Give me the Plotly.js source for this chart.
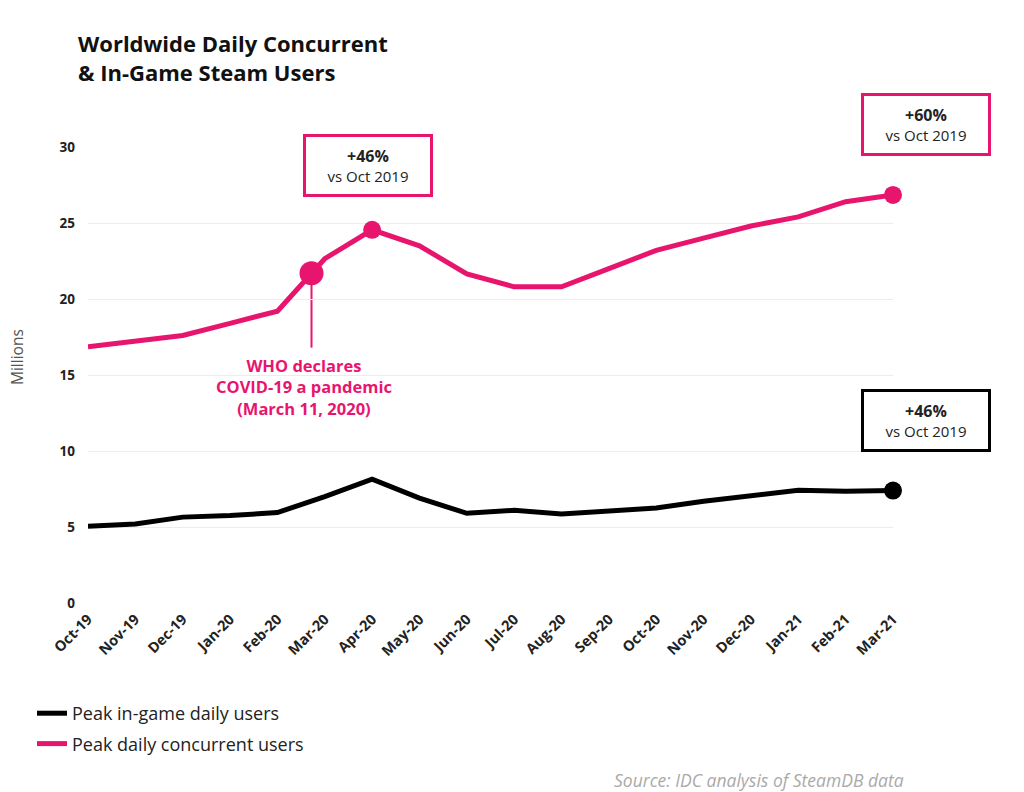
<!DOCTYPE html>
<html>
<head>
<meta charset="utf-8">
<script src="https://cdn.plot.ly/plotly-3.0.1.min.js"></script>
<style>html,body{margin:0;padding:0;background:#fff;}#chart{width:1024px;height:792px;}</style>
</head>
<body>
<div id="chart"></div>
<script>
// ---- data ----
const months = ["Oct-19","Nov-19","Dec-19","Jan-20","Feb-20","Mar-20","Apr-20","May-20","Jun-20","Jul-20","Aug-20","Sep-20","Oct-20","Nov-20","Dec-20","Jan-21","Feb-21","Mar-21"];
const concurrentUsers = [16.85,17.2,17.6,18.4,19.2,22.65,24.55,23.5,21.65,20.8,20.8,22.0,23.2,24.0,24.8,25.4,26.4,26.85];
const inGameUsers = [5.05,5.2,5.65,5.75,5.95,7.0,8.15,6.9,5.9,6.1,5.85,6.05,6.25,6.7,7.1,7.42,7.35,7.4];
const covidEventX = [4.72];   // March 11, 2020 between Feb-20 and Mar-20 ticks
const covidEventY = [21.7];
const yTicks = [0,5,10,15,20,25,30];

const PINK = "#E8156F";
const FONT = "'Open Sans', sans-serif";
const idx = months.map((m,i)=>i);
const last = months.length - 1;

const traces = [
  {x: idx, y: inGameUsers, type: "scatter", mode: "lines", name: "Peak in-game daily users",
   legendgroup: "a", line: {color: "#000", width: 5}, hoverinfo: "skip"},
  {x: idx, y: concurrentUsers, type: "scatter", mode: "lines", name: "Peak daily concurrent users",
   legendgroup: "b", line: {color: PINK, width: 5}, hoverinfo: "skip"},
  {x: [6, last], y: [concurrentUsers[6], concurrentUsers[last]], type: "scatter", mode: "markers",
   marker: {color: PINK, size: 18}, showlegend: false, cliponaxis: false, hoverinfo: "skip"},
  {x: covidEventX, y: covidEventY, type: "scatter", mode: "markers",
   marker: {color: PINK, size: 24}, showlegend: false, cliponaxis: false, hoverinfo: "skip"},
  {x: [last], y: [inGameUsers[last]], type: "scatter", mode: "markers",
   marker: {color: "#000", size: 18}, showlegend: false, cliponaxis: false, hoverinfo: "skip"}
];

// plot area in pixels: left 88, right 893, top 147, bottom 603
const PL = 88, PR = 893, PT = 147, PB = 603;
const px = v => (v - PL) / (PR - PL);
const py = v => (PB - v) / (PB - PT);

function box(xp, yp, txt, color) {
  return {x: px(xp), y: py(yp), xref: "paper", yref: "paper", xanchor: "center", yanchor: "middle",
    showarrow: false, text: txt, align: "center", width: 124, height: 57,
    bordercolor: color, borderwidth: 3, borderpad: 0, bgcolor: "#fff",
    font: {family: FONT, size: 15, color: "#222"}};
}

const layout = {
  width: 1024, height: 792,
  margin: {l: PL, r: 1024 - PR, t: PT, b: 792 - PB},
  paper_bgcolor: "#fff", plot_bgcolor: "#fff",
  title: {text: "<b>Worldwide Daily Concurrent<br>& In-Game Steam Users</b>",
    x: 78/1024, xanchor: "left", xref: "container", y: 1 - 52/792, yanchor: "top", yref: "container",
    font: {family: FONT, size: 22, color: "#111"}},
  xaxis: {range: [0, last], tickvals: idx, ticktext: months, tickangle: -45,
    showgrid: false, zeroline: false, showline: false, ticks: "", ticklabelstandoff: 4,
    tickfont: {family: FONT, size: 14.5, color: "#222", weight: "bold"}},
  yaxis: {range: [0, 30], tickvals: yTicks, showgrid: true, gridcolor: "#ececec", gridwidth: 1,
    zeroline: false, showline: false, ticks: "", ticklabelstandoff: 12,
    tickfont: {family: FONT, size: 13.5, color: "#222", weight: "bold"}},
  showlegend: true,
  legend: {x: px(32), xanchor: "left", y: py(695), yanchor: "top", orientation: "v",
    itemwidth: 30, tracegroupgap: 4,
    font: {family: FONT, size: 18, color: "#222"}, bgcolor: "rgba(0,0,0,0)"},
  shapes: [
    {type: "line", xref: "x", yref: "y", x0: covidEventX[0], x1: covidEventX[0],
     y0: covidEventY[0], y1: 16.8, line: {color: PINK, width: 2}, layer: "below"}
  ],
  annotations: [
    box(368, 165.5, "<span style='font-size:16px'><b>+46%</b></span><br>vs Oct 2019", PINK),
    box(926, 125, "<span style='font-size:16px'><b>+60%</b></span><br>vs Oct 2019", PINK),
    box(926, 420.5, "<span style='font-size:16px'><b>+46%</b></span><br>vs Oct 2019", "#000"),
    {x: covidEventX[0], y: 14.2, xref: "x", yref: "y", xshift: -8, showarrow: false, align: "center",
     text: "<b>WHO declares<br>COVID-19 a pandemic<br>(March 11, 2020)</b>",
     font: {family: FONT, size: 16.5, color: PINK}},
    {x: px(17), y: py(357), xref: "paper", yref: "paper", showarrow: false, textangle: -90,
     text: "Millions", xanchor: "center", yanchor: "middle",
     font: {family: FONT, size: 15.5, color: "#555"}},
    {x: px(906), y: py(780), xref: "paper", yref: "paper", showarrow: false,
     text: "<i>Source: IDC analysis of SteamDB data</i>", xanchor: "right", yanchor: "middle",
     font: {family: FONT, size: 17.5, color: "#aaa"}}
  ]
};

Plotly.newPlot("chart", traces, layout, {displayModeBar: false, staticPlot: true});
</script>
</body>
</html>
